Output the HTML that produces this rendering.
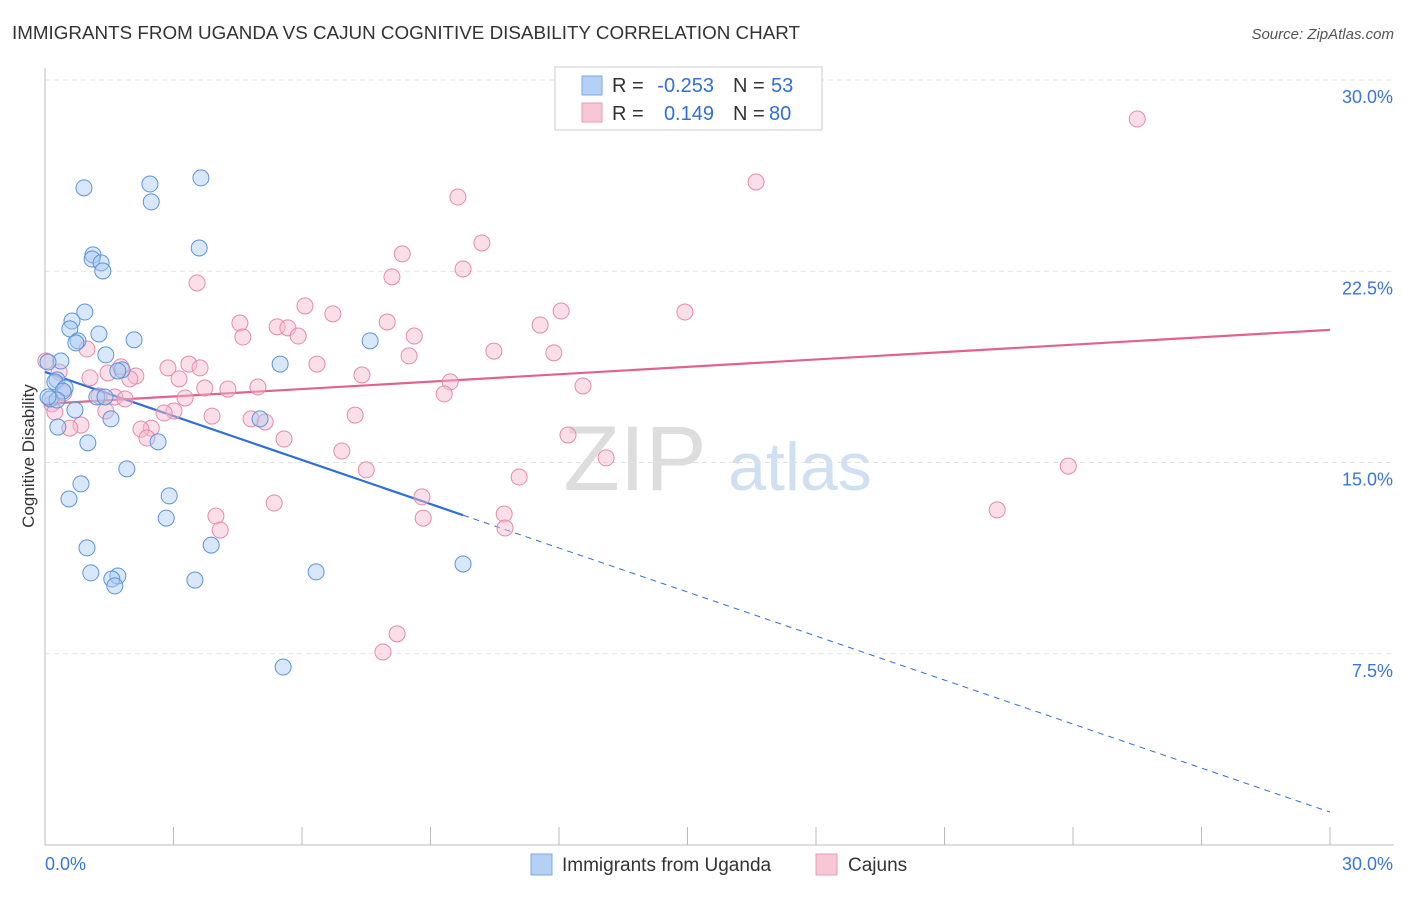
<!DOCTYPE html>
<html><head><meta charset="utf-8"><style>
body{margin:0;background:#fff;font-family:"Liberation Sans",sans-serif;}
svg text{font-family:"Liberation Sans",sans-serif;}
</style></head><body>
<svg id="chart" width="1406" height="892" xmlns="http://www.w3.org/2000/svg">
<text x="12" y="39" font-size="18" fill="#333" textLength="788" lengthAdjust="spacingAndGlyphs">IMMIGRANTS FROM UGANDA VS CAJUN COGNITIVE DISABILITY CORRELATION CHART</text>
<text x="1394" y="39" font-size="15" fill="#555" text-anchor="end" font-style="italic">Source: ZipAtlas.com</text>
<text transform="translate(34,456) rotate(-90)" font-size="17" fill="#333" text-anchor="middle">Cognitive Disability</text>
<g>
<text x="635" y="490" font-size="92" fill="#ddd" font-family="Liberation Serif" text-anchor="middle">ZIP</text>
<text x="800" y="490" font-size="68" fill="#cfe0f3" text-anchor="middle">atlas</text>
</g>
<g id="grid"></g><g id="axes"></g><g id="trend"></g><g id="pts"></g>
<g>
<rect x="555" y="67" width="267" height="63" fill="#fff" stroke="#ccc"/>
<rect x="582" y="76" width="20" height="19" fill="#b5d0f5" stroke="#7aa7e6"/>
<text x="612" y="92" font-size="20" fill="#333">R =</text>
<text x="714" y="92" font-size="20" fill="#2f6fd6" text-anchor="end">-0.253</text>
<text x="733" y="92" font-size="20" fill="#333">N =</text>
<text x="771" y="92" font-size="20" fill="#2f6fd6">53</text>
<rect x="582" y="103" width="20" height="19" fill="#f8c7d6" stroke="#eb99b5"/>
<text x="612" y="120" font-size="20" fill="#333">R =</text>
<text x="714" y="120" font-size="20" fill="#2f6fd6" text-anchor="end">0.149</text>
<text x="733" y="120" font-size="20" fill="#333">N =</text>
<text x="769" y="120" font-size="20" fill="#2f6fd6">80</text>
</g>
<g>
<rect x="531" y="854" width="21" height="21" fill="#b5d0f5" stroke="#7aa7e6"/>
<text x="562" y="871" font-size="19" fill="#333">Immigrants from Uganda</text>
<rect x="816" y="854" width="21" height="21" fill="#f8c7d6" stroke="#eb99b5"/>
<text x="848" y="871" font-size="19" fill="#333">Cajuns</text>
</g>
</svg>
<script>
const NS="http://www.w3.org/2000/svg";
const xTicks=[0,30];
const yTicks=[7.5,15,22.5,30];
const ugandaX=[0.91,2.45,3.64,2.48,3.60,1.12,1.10,1.31,1.35,0.93,0.63,0.58,1.26,0.77,0.72,2.08,7.59,1.42,0.37,0.07,5.49,1.80,1.70,0.28,0.23,0.47,0.42,1.21,1.40,0.12,0.28,0.70,1.54,5.02,0.30,1.00,2.64,1.91,0.84,0.56,2.90,2.83,3.88,0.98,9.76,1.07,1.70,1.56,6.33,3.50,1.63,5.56,0.07];
const ugandaY=[25.77,25.92,26.16,25.22,23.41,23.14,22.98,22.83,22.51,20.90,20.55,20.24,20.04,19.77,19.69,19.81,19.77,19.22,18.98,18.94,18.86,18.63,18.59,18.24,18.16,17.92,17.80,17.57,17.57,17.49,17.45,17.06,16.71,16.71,16.39,15.77,15.81,14.75,14.16,13.57,13.69,12.82,11.76,11.65,11.02,10.67,10.55,10.43,10.71,10.39,10.16,6.98,17.57];
const cajunX=[25.50,16.60,9.64,10.20,8.34,9.76,8.10,3.55,6.07,12.05,14.94,6.72,4.55,7.99,11.56,5.42,5.67,4.62,5.91,8.62,10.48,11.88,0.98,8.50,0.02,6.35,3.36,2.87,3.62,0.33,1.77,1.47,2.12,7.40,1.05,1.98,3.13,9.46,12.56,4.97,3.73,4.27,0.44,9.32,1.26,1.63,1.87,3.27,0.16,3.01,2.78,1.42,0.23,3.90,7.24,4.81,5.14,0.84,0.58,2.48,2.24,2.38,5.58,12.21,6.93,13.10,7.50,23.89,11.07,8.80,5.35,22.23,3.99,8.83,10.72,4.09,10.74,8.22,7.89];
const cajunY=[28.47,26.00,25.41,23.61,23.18,22.59,22.28,22.04,21.14,20.94,20.90,20.83,20.47,20.51,20.39,20.32,20.28,19.92,19.96,19.96,19.37,19.30,19.45,19.18,18.98,18.86,18.86,18.71,18.71,18.55,18.75,18.51,18.39,18.43,18.32,18.28,18.28,18.16,18.00,17.96,17.92,17.88,17.73,17.69,17.61,17.57,17.49,17.53,17.30,17.02,16.94,17.02,16.98,16.82,16.86,16.71,16.59,16.47,16.35,16.35,16.31,15.96,15.92,16.08,15.45,15.18,14.71,14.86,14.43,13.65,13.41,13.14,12.90,12.82,12.98,12.35,12.43,8.28,7.57];
const ugandaTrend=[18.55,-0.5753];
const cajunTrend=[17.30,0.0967];
const X=v=>45+v/30*1285, Y=v=>845-v/30*765;
function mk(p,t,a){const e=document.createElementNS(NS,t);for(const k in a)e.setAttribute(k,a[k]);p.appendChild(e);return e;}
const grid=document.getElementById('grid'),axes=document.getElementById('axes'),trend=document.getElementById('trend'),pts=document.getElementById('pts');
yTicks.forEach(t=>{
 const l=mk(grid,'line',{x1:45,x2:1394,y1:Y(t),y2:Y(t),stroke:'#e2e2e2','stroke-dasharray':'5,4'});
 
 
 const tx=mk(axes,'text',{x:1393,y:Y(t)+23,'font-size':18,fill:'#3a75d8','text-anchor':'end'});
 tx.textContent=t.toFixed(1)+'%';
 
 
});
const ax=mk(axes,'line',{x1:45,x2:1394,y1:845,y2:845,stroke:'#bbb'});


const ay=mk(axes,'line',{x1:45,x2:45,y1:68,y2:845,stroke:'#bbb'});


for(let i=1;i<=10;i++){const v=i*3;const tk=mk(axes,'line',{x1:X(v),x2:X(v),y1:827,y2:845,stroke:'#bbb'});
 
 }
xTicks.forEach((t,i)=>{const tx=mk(axes,'text',{x:i?1393:45,y:870,'font-size':18,fill:'#3a75d8','text-anchor':i?'end':'start'});
 tx.textContent=t.toFixed(1)+'%';
 
 });
function dots(xs,ys,fill,stroke,name){xs.forEach((x,i)=>{const c=mk(pts,'circle',{cx:X(x),cy:Y(ys[i]),r:8,fill:fill,'fill-opacity':0.45,stroke:stroke,'stroke-width':1});
 
 });}
dots(cajunX,cajunY,'#f6b8cb','#e68aaa','cajun-point');
dots(ugandaX,ugandaY,'#a9c9f2','#5b93dd','uganda-point');
const bx=Math.max(...ugandaX);
const b1=mk(trend,'line',{x1:X(0),y1:Y(ugandaTrend[0]),x2:X(bx),y2:Y(ugandaTrend[0]+ugandaTrend[1]*bx),stroke:'#2f6fd6','stroke-width':2.2});


const b2=mk(trend,'line',{x1:X(bx),y1:Y(ugandaTrend[0]+ugandaTrend[1]*bx),x2:X(30),y2:Y(ugandaTrend[0]+ugandaTrend[1]*30),stroke:'#2f6fd6','stroke-width':1,'stroke-dasharray':'6,5'});


const p1=mk(trend,'line',{x1:X(0),y1:Y(cajunTrend[0]),x2:X(30),y2:Y(cajunTrend[0]+cajunTrend[1]*30),stroke:'#e2628f','stroke-width':2.2});


</script>
</body></html>
